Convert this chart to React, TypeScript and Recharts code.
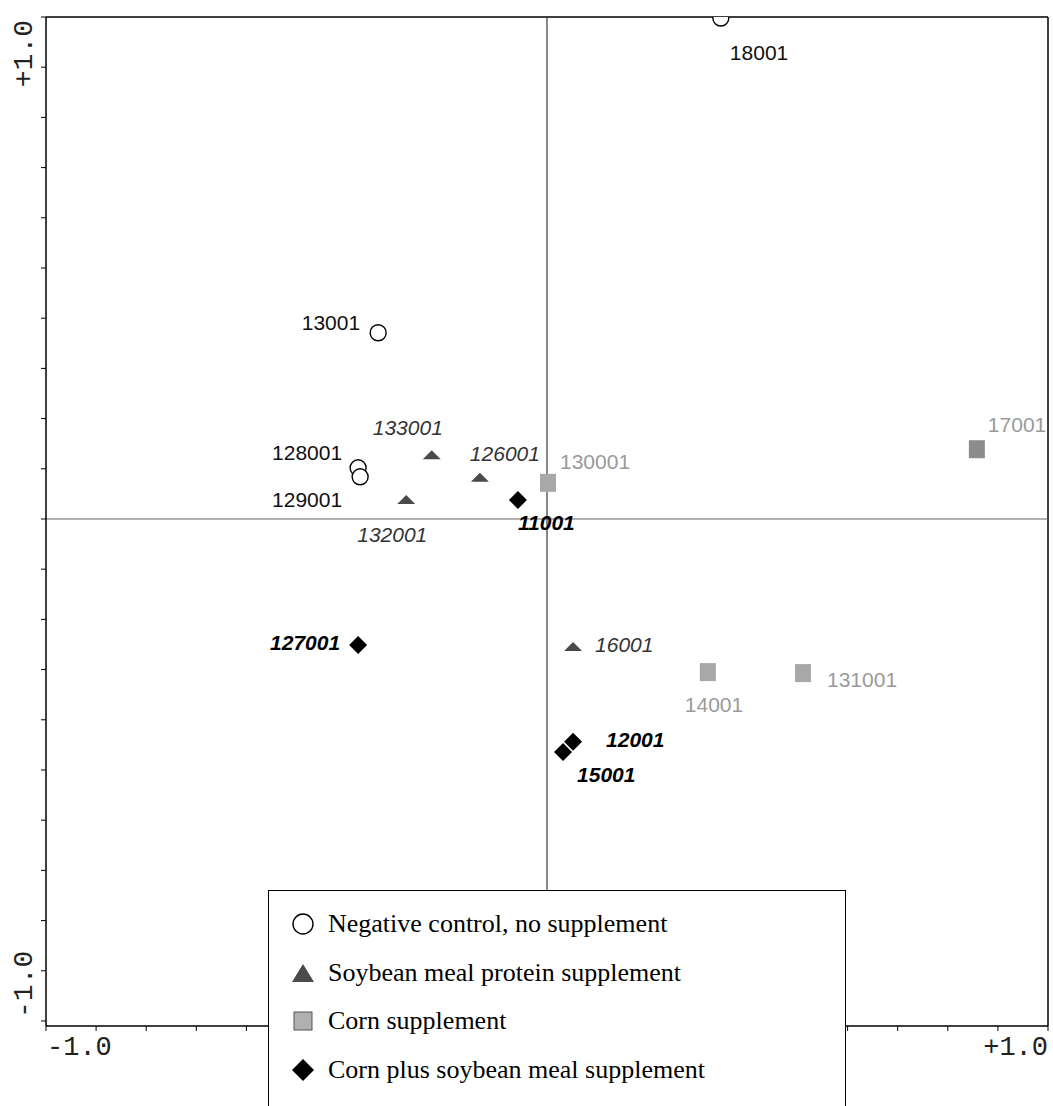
import React from "react";
import { ScatterChart, Scatter, XAxis, YAxis, ReferenceLine, Legend } from "recharts";

interface Sample {
  id: string;
  x: number;
  y: number;
}

const negativeControl: Sample[] = [
  { id: "18001", x: 0.347, y: 0.998 },
  { id: "13001", x: -0.337, y: 0.371 },
  { id: "128001", x: -0.377, y: 0.102 },
  { id: "129001", x: -0.373, y: 0.084 },
];

const soybeanMeal: Sample[] = [
  { id: "133001", x: -0.23, y: 0.127 },
  { id: "126001", x: -0.134, y: 0.082 },
  { id: "132001", x: -0.281, y: 0.038 },
  { id: "16001", x: 0.052, y: -0.255 },
];

const cornOnly: Sample[] = [
  { id: "130001", x: 0.002, y: 0.072 },
  { id: "17001", x: 0.858, y: 0.139 },
  { id: "14001", x: 0.321, y: -0.305 },
  { id: "131001", x: 0.511, y: -0.307 },
];

const cornSoybean: Sample[] = [
  { id: "11001", x: -0.058, y: 0.038 },
  { id: "127001", x: -0.377, y: -0.251 },
  { id: "12001", x: 0.052, y: -0.444 },
  { id: "15001", x: 0.032, y: -0.464 },
];

const groupNames = [
  "Negative control, no supplement",
  "Soybean meal protein supplement",
  "Corn supplement",
  "Corn plus soybean meal supplement",
];

const axisTicks = [
  -1, -0.9, -0.8, -0.7, -0.6, -0.5, -0.4, -0.3, -0.2, -0.1, 0,
  0.1, 0.2, 0.3, 0.4, 0.5, 0.6, 0.7, 0.8, 0.9, 1,
];

const endTickLabels: Record<string, string> = { "-1": "-1.0", "1": "+1.0" };

// where each sample's name sits relative to its marker: anchor, dx, baseline dy
const labelPlacement: Record<string, ["start" | "end", number, number]> = {
  "18001": ["start", 9, 42],
  "13001": ["end", -18, -3],
  "128001": ["end", -16, -8],
  "129001": ["end", -18, 30],
  "133001": ["start", -59, -20],
  "126001": ["start", -10, -17],
  "132001": ["start", -49, 42],
  "16001": ["start", 22, 5],
  "130001": ["start", 12, -14],
  "17001": ["start", 11, -17],
  "14001": ["start", -23, 40],
  "131001": ["start", 24, 14],
  "11001": ["start", 0, 30],
  "127001": ["end", -18, 5],
  "12001": ["start", 33, 5],
  "15001": ["start", 14, 30],
};

const labelFont = "'Liberation Sans', Arial, sans-serif";
const monoFont = "'Liberation Mono', 'Courier New', monospace";

function SampleLabel({ cx, cy, id, style }: { cx: number; cy: number; id: string; style: React.CSSProperties }) {
  const [anchor, dx, dy] = labelPlacement[id] || ["start", 10, 0];
  return (
    <text x={cx + dx} y={cy + dy} textAnchor={anchor} fontFamily={labelFont} fontSize={21} style={style}>
      {id}
    </text>
  );
}

const circleShape = (p: any) => (
  <g>
    <circle cx={p.cx} cy={p.cy} r={8} fill="#fff" stroke="#000" strokeWidth={1.4} />
    <SampleLabel cx={p.cx} cy={p.cy} id={p.payload.id} style={{ fill: "#111" }} />
  </g>
);

const triangleShape = (p: any) => (
  <g>
    <polygon
      points={`${p.cx - 9},${p.cy + 4} ${p.cx + 9},${p.cy + 4} ${p.cx},${p.cy - 5}`}
      fill="#4a4a4a"
    />
    <SampleLabel cx={p.cx} cy={p.cy} id={p.payload.id} style={{ fill: "#333", fontStyle: "italic" }} />
  </g>
);

const squareShape = (p: any) => (
  <g>
    <rect x={p.cx - 8} y={p.cy - 9} width={16} height={18} fill={p.payload.id === "17001" ? "#8c8c8c" : "#a8a8a8"} />
    <SampleLabel cx={p.cx} cy={p.cy} id={p.payload.id} style={{ fill: "#9a9a9a" }} />
  </g>
);

const diamondShape = (p: any) => (
  <g>
    <polygon
      points={`${p.cx},${p.cy - 9} ${p.cx + 9},${p.cy} ${p.cx},${p.cy + 9} ${p.cx - 9},${p.cy}`}
      fill="#000"
    />
    <SampleLabel cx={p.cx} cy={p.cy} id={p.payload.id} style={{ fill: "#000", fontStyle: "italic", fontWeight: 700 }} />
  </g>
);

const XTick = (props: any) => {
  const label = endTickLabels[String(props.payload.value)];
  if (!label) return <g />;
  const isMin = props.payload.value < 0;
  return (
    <text
      x={props.x + (isMin ? 1 : 0)}
      y={props.y + 22}
      textAnchor={isMin ? "start" : "end"}
      fontFamily={monoFont}
      fontSize={27}
      fill="#222"
    >
      {label}
    </text>
  );
};

const YTick = (props: any) => {
  const label = endTickLabels[String(props.payload.value)];
  if (!label) return <g />;
  const isMin = props.payload.value < 0;
  const y = props.y + (isMin ? -3 : 3);
  return (
    <text
      transform={`translate(${props.x - 7}, ${y}) rotate(-90)`}
      textAnchor={isMin ? "start" : "end"}
      fontFamily={monoFont}
      fontSize={28}
      fill="#222"
    >
      {label}
    </text>
  );
};

const legendIcons = [
  <circle cx={12} cy={12} r={10} fill="#fff" stroke="#000" strokeWidth={1.4} />,
  <polygon points="1,21 23,21 12,3" fill="#4a4a4a" />,
  <rect x={3} y={3} width={18} height={18} fill="#b0b0b0" stroke="#555" strokeWidth={1} />,
  <polygon points="12,1 23,12 12,23 1,12" fill="#000" />,
];

const renderLegend = () => (
  <div
    style={{
      width: 578,
      height: 230,
      boxSizing: "border-box",
      background: "#fff",
      border: "1.5px solid #000",
      paddingTop: 9,
      fontFamily: "'Liberation Serif', 'Times New Roman', serif",
      fontSize: 26,
      color: "#000",
    }}
  >
    {groupNames.map((name, i) => (
      <div key={name} style={{ display: "flex", alignItems: "center", height: 48.5 }}>
        <svg width={24} height={24} style={{ marginLeft: 22, marginRight: 13 }}>
          {legendIcons[i]}
        </svg>
        <span>{name}</span>
      </div>
    ))}
  </div>
);

export default function App() {
  return (
    <div style={{ width: 1053, height: 1106, overflow: "hidden", position: "relative", background: "#fff" }}>
      <style>{"body{margin:0;background:#fff}"}</style>
      <ScatterChart width={1053} height={1106} margin={{ top: 17, right: 5, bottom: 0, left: 0 }}>
        <XAxis
          type="number"
          dataKey="x"
          domain={[-1, 1]}
          ticks={axisTicks}
          interval={0}
          tickSize={5}
          height={80}
          axisLine={{ stroke: "#000", strokeWidth: 1.5 }}
          tickLine={{ stroke: "#000" }}
          tick={<XTick />}
          allowDataOverflow
        />
        <YAxis
          type="number"
          dataKey="y"
          domain={[-1.01, 1]}
          ticks={axisTicks}
          interval={0}
          tickSize={5}
          width={46}
          axisLine={{ stroke: "#000", strokeWidth: 1.5 }}
          tickLine={{ stroke: "#000" }}
          tick={<YTick />}
          allowDataOverflow
        />
        <ReferenceLine y={1} stroke="#000" strokeWidth={1.5} />
        <ReferenceLine x={1} stroke="#000" strokeWidth={1.5} />
        <ReferenceLine y={0} stroke="#666" strokeWidth={1} />
        <ReferenceLine x={0} stroke="#111" strokeWidth={1} />
        <Scatter data={negativeControl} shape={circleShape} isAnimationActive={false} />
        <Scatter data={soybeanMeal} shape={triangleShape} isAnimationActive={false} />
        <Scatter data={cornOnly} shape={squareShape} isAnimationActive={false} />
        <Scatter data={cornSoybean} shape={diamondShape} isAnimationActive={false} />
        <Legend
          layout="horizontal"
          verticalAlign="middle"
          align="center"
          content={renderLegend}
          wrapperStyle={{ left: 268, top: 890, width: 578, height: 230 }}
        />
      </ScatterChart>
    </div>
  );
}
